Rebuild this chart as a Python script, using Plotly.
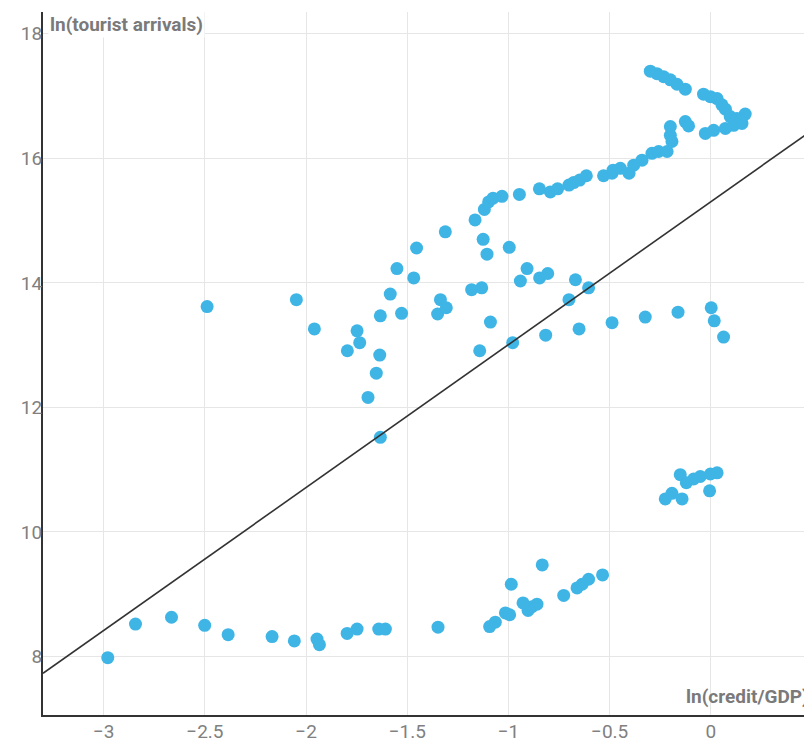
import plotly.graph_objects as go

# ln(credit/GDP)
credit = [
    -2.980, -2.843, -2.665, -2.501, -2.385, -2.168, -2.058, -1.946, -1.934, -1.797,
    -1.748, -1.641, -1.608, -1.348, -1.093, -1.065, -1.015, -0.994, -0.986, -0.928,
    -0.903, -0.884, -0.859, -0.833, -0.727, -0.661, -0.636, -0.604, -0.535,
    -0.225, -0.192, -0.142, -0.151, -0.121, -0.085, -0.052, -0.002, 0.031, -0.006,
    -2.489, -2.048, -1.959, -1.748, -1.735, -1.796, -1.636, -1.653, -1.694, -1.633,
    -1.633, -1.584, -1.551, -1.528, -1.468, -1.454, -1.350, -1.336, -1.307, -1.312,
    -1.182, -1.132, -1.142, -1.089, -1.125, -1.106, -0.996, -0.979, -0.941, -0.908,
    -0.846, -0.806, -0.816, -0.669, -0.701, -0.604, -0.651, -0.488, -0.324, -0.162,
    0.002, 0.017, 0.063,
    -1.165, -1.119, -1.098, -1.076, -1.032, -0.946, -0.847, -0.793, -0.757, -0.701,
    -0.678, -0.648, -0.615, -0.530, -0.488, -0.483, -0.447, -0.404, -0.381, -0.340,
    -0.291, -0.258, -0.216, -0.192, -0.200, -0.200, -0.126, -0.110, -0.027, 0.014,
    0.072, 0.113, 0.154, 0.170, 0.129, 0.096, 0.072, 0.055, 0.031, -0.002,
    -0.036, -0.126, -0.167, -0.200, -0.233, -0.266, -0.299,
]

# ln(tourist arrivals)
arrivals = [
    7.98, 8.52, 8.63, 8.50, 8.35, 8.32, 8.25, 8.28, 8.19, 8.37,
    8.44, 8.44, 8.44, 8.47, 8.48, 8.55, 8.70, 8.67, 9.16, 8.86,
    8.74, 8.80, 8.84, 9.47, 8.98, 9.10, 9.16, 9.24, 9.31,
    10.53, 10.62, 10.53, 10.92, 10.79, 10.85, 10.89, 10.93, 10.95, 10.66,
    13.62, 13.73, 13.26, 13.23, 13.04, 12.91, 12.84, 12.55, 12.16, 11.52,
    13.47, 13.82, 14.23, 13.51, 14.08, 14.56, 13.50, 13.73, 13.60, 14.82,
    13.89, 13.92, 12.91, 13.37, 14.70, 14.46, 14.57, 13.04, 14.03, 14.23,
    14.08, 14.15, 13.16, 14.05, 13.73, 13.92, 13.26, 13.36, 13.45, 13.53,
    13.60, 13.39, 13.13,
    15.01, 15.18, 15.30, 15.36, 15.39, 15.42, 15.51, 15.46, 15.51, 15.57,
    15.61, 15.65, 15.72, 15.72, 15.76, 15.81, 15.84, 15.76, 15.89, 15.97,
    16.08, 16.11, 16.11, 16.27, 16.37, 16.51, 16.59, 16.52, 16.40, 16.45,
    16.48, 16.53, 16.56, 16.71, 16.64, 16.67, 16.79, 16.86, 16.96, 16.99,
    17.03, 17.11, 17.19, 17.26, 17.31, 17.36, 17.40,
]

# fitted regression line
fit_slope = 2.295
fit_intercept = 15.303
fit_x = [-3.3, 0.5]
fit_y = [fit_intercept + fit_slope * v for v in fit_x]

x_ticks = [-3, -2.5, -2, -1.5, -1, -0.5, 0]
y_ticks = [8, 10, 12, 14, 16, 18]

fig = go.Figure()
fig.add_trace(go.Scatter(
    x=credit, y=arrivals, mode="markers",
    marker=dict(size=13, color="#3fb5e6", line=dict(width=0)),
    showlegend=False, hoverinfo="x+y",
))
fig.add_trace(go.Scatter(
    x=fit_x, y=fit_y, mode="lines",
    line=dict(color="#333333", width=1.6),
    showlegend=False, hoverinfo="skip",
))

axis_common = dict(
    showgrid=True, gridcolor="#e6e6e6", gridwidth=1,
    zeroline=False, showline=True, linecolor="#333333", linewidth=2,
    ticks="", automargin=False,
    tickfont=dict(family="Roboto", size=19, color="#808080"),
)

fig.update_layout(
    width=804, height=738,
    margin=dict(l=35, r=0, t=4, b=31),
    plot_bgcolor="white", paper_bgcolor="white",
    font=dict(family="Roboto"),
    xaxis=dict(range=[-3.3, 0.5], tickvals=x_ticks, ticklabelstandoff=-2, **axis_common),
    yaxis=dict(range=[7.06, 18.35], tickvals=y_ticks, ticklabelstandoff=-5, **axis_common),
    annotations=[
        dict(text="<b>ln(tourist arrivals)</b>", xref="paper", yref="paper",
             x=0, y=1, xanchor="left", yanchor="top", xshift=5, yshift=1,
             showarrow=False, bgcolor="white", borderpad=1,
             font=dict(family="Roboto", size=19, color="#7a7a7a")),
        dict(text="<b>ln(credit/GDP)</b>", xref="paper", yref="paper",
             x=1, y=0, xanchor="right", yanchor="bottom", xshift=-1, yshift=5,
             showarrow=False,
             font=dict(family="Roboto", size=19, color="#7a7a7a")),
    ],
)

fig.write_html("out.html")
